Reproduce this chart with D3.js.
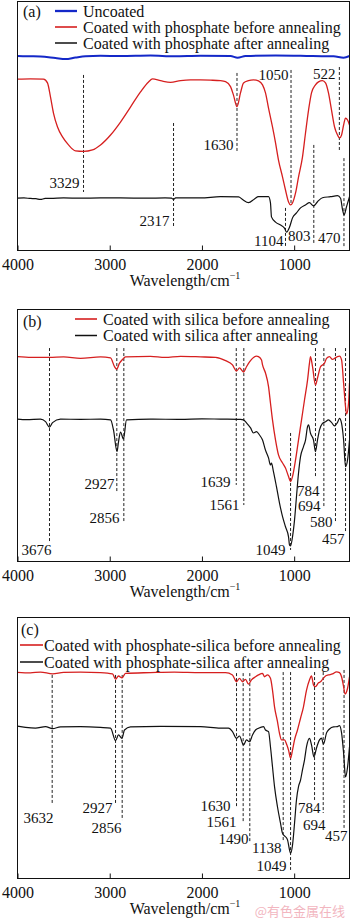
<!DOCTYPE html>
<html><head><meta charset="utf-8">
<script src="https://cdn.jsdelivr.net/npm/d3@7"></script>
<style>
body{margin:0;background:#fff}
svg{display:block}
text{font-family:"Liberation Serif","Times New Roman",serif;fill:#111}
</style>
</head><body><svg id="chart" width="350" height="920"></svg>
<script>
// ---------- data ----------
const wavenumberTicks = [4000, 3000, 2000, 1000];
const xDomain = [4000, 400];
const axisTitle = "Wavelength/cm";
const axisTitleSup = "\u22121";

// panel (a)  [wavenumber, transmittance a.u.]
const aNames = ["Uncoated", "Coated with phosphate before annealing", "Coated with phosphate after annealing"];
const aUncoated = [[4000,77.9],[3860,77.8],[3751,77.7],[3588,77.1],[3480,76.7],[3371,77.3],[3263,77.8],[3100,78.0],[2883,77.9],[2558,78.1],[2300,77.8],[2015,78.0],[1690,77.9],[1614,77.2],[1528,77.9],[1200,78.1],[931,78.0],[800,77.9],[573,77.8],[464,77.2],[400,77.9]];
const aBefore = [[4000,68.6],[3860,68.7],[3718,68.6],[3675,67.1],[3642,61.4],[3610,55.0],[3566,49.4],[3512,45.4],[3447,42.2],[3371,39.8],[3284,39.6],[3187,40.2],[3100,42.2],[2991,46.2],[2883,51.4],[2775,57.4],[2666,63.5],[2579,67.5],[2536,68.7],[2449,68.0],[2341,67.3],[2232,68.0],[2124,68.3],[2015,68.3],[1907,68.2],[1799,68.0],[1744,67.6],[1690,65.6],[1658,62.2],[1620,57.6],[1582,63.1],[1549,67.1],[1495,68.0],[1441,68.3],[1387,67.9],[1343,66.3],[1311,63.1],[1278,57.0],[1235,49.4],[1202,43.0],[1170,36.1],[1126,29.3],[1094,24.1],[1061,19.3],[1039,18.1],[1018,18.9],[985,22.9],[953,29.3],[910,37.3],[877,47.0],[844,56.2],[812,63.1],[769,66.3],[736,67.5],[693,68.0],[660,67.1],[628,63.1],[595,56.2],[562,49.4],[530,46.2],[508,45.0],[486,46.2],[464,50.2],[443,53.0],[421,52.2],[400,50.2]];
const aAfter = [[4000,20.8],[3930,20.9],[3859,20.7],[3800,20.6],[3751,20.3],[3700,20.7],[3642,20.7],[3500,20.9],[3317,20.8],[3100,20.9],[2883,20.9],[2600,20.8],[2400,20.9],[2330,20.8],[2308,20.3],[2285,20.9],[2015,20.9],[1799,21.4],[1603,21.3],[1560,20.3],[1495,19.0],[1430,20.5],[1387,21.4],[1278,21.4],[1257,18.9],[1246,13.3],[1202,11.2],[1148,10.0],[1105,8.8],[1083,7.2],[1050,9.2],[1018,12.9],[975,14.9],[931,16.9],[877,18.1],[834,19.0],[790,17.7],[747,19.4],[693,21.0],[606,21.4],[530,21.8],[497,20.8],[475,16.1],[459,14.1],[432,17.4],[400,21.4]];
const aMarkers = [
  {label:"3329", wn:3284, from:70.3, to:23.3, lx:3328, ly:24.9},
  {label:"2317", wn:2308, from:51.0, to:9.2,  lx:2352, ly:9.6},
  {label:"1630", wn:1620, from:71.1, to:39.4, lx:1658, ly:40.2},
  {label:"1050", wn:1034, from:72.3, to:18.1, lx:1061, ly:68.3},
  {label:"522",  wn:510,  from:73.5, to:39.4, lx:552,  ly:68.7},
  {label:"1104", wn:1094, from:16.9, to:1.2,  lx:1116, ly:1.6},
  {label:"803",  wn:787,  from:42.2, to:2.8,  lx:823,  ly:3.6},
  {label:"470",  wn:460,  from:36.9, to:1.2,  lx:497,  ly:2.8}
];

// panel (b)
const bNames = ["Coated with silica before annealing", "Coated with silica after annealing"];
const bBefore = [[4000,81.1],[3850,80.8],[3653,80.8],[3500,81.0],[3317,80.4],[3100,81.0],[2991,80.6],[2948,77.1],[2926,76.1],[2894,78.5],[2861,80.0],[2829,81.0],[2558,81.2],[2400,80.8],[2232,81.2],[2015,81.0],[1853,80.8],[1744,79.5],[1669,77.8],[1625,75.4],[1593,76.6],[1549,75.0],[1517,77.1],[1484,79.0],[1452,80.4],[1408,81.3],[1387,81.1],[1354,79.8],[1343,77.8],[1311,74.6],[1278,69.2],[1257,62.7],[1235,56.0],[1202,48.0],[1170,42.1],[1126,38.9],[1094,36.9],[1061,33.5],[1039,31.5],[1018,33.5],[985,40.1],[953,48.0],[920,56.0],[888,63.9],[855,71.8],[834,78.5],[823,81.1],[801,77.1],[769,69.8],[747,72.6],[714,77.1],[693,77.8],[671,78.5],[649,80.4],[617,81.1],[584,80.0],[562,80.4],[530,81.1],[508,81.3],[486,79.8],[464,70.6],[443,61.2],[432,58.3],[410,62.7],[400,70.6]];
const bAfter = [[4000,56.3],[3900,56.1],[3751,56.3],[3696,55.3],[3653,53.1],[3620,54.9],[3534,56.3],[3317,56.2],[3100,56.3],[2991,56.0],[2959,52.0],[2921,43.4],[2905,47.2],[2883,51.2],[2851,48.4],[2818,56.0],[2558,56.3],[2232,56.2],[2000,56.4],[1799,56.3],[1582,56.2],[1549,56.0],[1517,54.8],[1473,52.8],[1441,50.8],[1408,51.3],[1376,50.0],[1343,48.0],[1311,44.0],[1278,40.9],[1257,38.1],[1246,38.8],[1224,35.4],[1192,29.5],[1159,23.0],[1126,17.6],[1094,13.6],[1061,9.6],[1050,6.3],[1039,6.0],[1018,9.6],[996,16.3],[975,25.5],[953,34.8],[931,41.4],[899,45.4],[877,48.0],[855,53.3],[844,54.0],[823,50.7],[790,48.0],[769,43.4],[747,48.0],[725,52.0],[693,54.6],[660,55.3],[628,56.0],[595,55.0],[562,53.6],[530,55.0],[508,56.6],[486,54.6],[464,48.0],[443,37.4],[421,40.1],[400,48.0]];
const bMarkers = [
  {label:"3676", wn:3653, from:84.5, to:7.5,  lx:3631, ly:2.4},
  {label:"2927", wn:2923, from:84.5, to:27.4, lx:2948, ly:28.6},
  {label:"2856", wn:2847, from:84.5, to:15.5, lx:2894, ly:15.1},
  {label:"1639", wn:1628, from:84.5, to:30.2, lx:1690, ly:29.4},
  {label:"1561", wn:1546, from:84.5, to:22.2, lx:1593, ly:20.2},
  {label:"1049", wn:1039, from:50.8, to:4.4,  lx:1094, ly:2.4},
  {label:"784",  wn:769,  from:84.5, to:32.9, lx:725,  ly:25.8},
  {label:"694",  wn:678,  from:84.5, to:21.4, lx:714,  ly:19.8},
  {label:"580",  wn:552,  from:84.5, to:15.5, lx:584,  ly:13.5},
  {label:"457",  wn:443,  from:84.5, to:11.1, lx:454,  ly:6.7}
];

// panel (c)
const cNames = ["Coated with phosphate-silica before annealing", "Coated with phosphate-silica after annealing"];
const cBefore = [[4000,78.8],[3860,78.6],[3751,78.9],[3620,78.2],[3500,78.8],[3317,78.9],[3100,78.7],[2970,78.2],[2937,76.2],[2905,77.4],[2867,76.7],[2829,78.4],[2558,78.7],[2300,78.9],[2015,78.7],[1744,78.7],[1669,77.8],[1625,75.2],[1593,76.5],[1560,75.2],[1528,76.1],[1495,74.3],[1463,75.9],[1419,77.1],[1387,77.8],[1343,78.4],[1322,77.1],[1289,77.8],[1257,76.5],[1235,72.0],[1213,65.6],[1181,59.9],[1159,55.4],[1137,52.9],[1105,52.9],[1083,51.3],[1061,49.0],[1039,45.9],[1018,49.0],[996,52.9],[964,56.7],[931,61.2],[899,65.6],[866,72.0],[834,75.9],[812,77.4],[790,73.9],[769,73.3],[736,74.8],[714,75.2],[693,76.1],[660,77.4],[628,77.8],[584,78.2],[541,79.0],[508,78.7],[486,77.1],[464,73.3],[448,70.5],[421,72.7],[400,77.1]];
const cAfter = [[4000,58.2],[3913,57.7],[3805,57.4],[3696,58.0],[3620,57.2],[3534,57.9],[3317,58.0],[3100,57.7],[2991,57.4],[2937,52.6],[2905,54.8],[2867,53.5],[2840,56.7],[2775,57.9],[2449,58.1],[2015,58.0],[1799,57.4],[1712,57.4],[1669,56.1],[1625,53.5],[1593,54.4],[1549,51.0],[1517,52.9],[1484,52.2],[1452,54.8],[1419,56.7],[1387,57.4],[1332,58.0],[1311,56.7],[1278,56.1],[1257,50.3],[1235,42.6],[1213,35.0],[1181,27.3],[1148,21.0],[1126,17.1],[1094,15.8],[1072,14.6],[1050,10.7],[1039,9.5],[1018,12.6],[996,21.0],[975,29.9],[953,35.0],[931,37.5],[910,41.4],[888,45.2],[866,50.3],[834,53.5],[812,51.0],[785,46.4],[758,49.8],[725,52.9],[704,53.6],[682,51.3],[649,55.6],[617,57.1],[573,57.9],[530,58.0],[508,58.4],[486,55.6],[464,47.9],[443,38.7],[421,42.5],[400,50.2]];
const cMarkers = [
  {label:"3632", wn:3624, from:77.8, to:28.7, lx:3610, ly:21.1},
  {label:"2927", wn:2937, from:77.8, to:28.7, lx:2970, ly:24.9},
  {label:"2856", wn:2865, from:77.8, to:22.2, lx:2872, ly:17.2},
  {label:"1630", wn:1625, from:78.5, to:26.8, lx:1690, ly:25.7},
  {label:"1561", wn:1553, from:78.5, to:21.1, lx:1625, ly:19.5},
  {label:"1490", wn:1481, from:78.5, to:13.4, lx:1495, ly:13.0},
  {label:"1138", wn:1119, from:78.9, to:13.8, lx:1137, ly:9.6},
  {label:"1049", wn:1039, from:78.9, to:3.1,  lx:1083, ly:2.7},
  {label:"784",  wn:779,  from:78.9, to:29.9, lx:714,  ly:24.9},
  {label:"694",  wn:685,  from:78.9, to:24.9, lx:660,  ly:18.4},
  {label:"457",  wn:459,  from:79.7, to:19.2, lx:421,  ly:14.2}
];
const watermark = "@有色金属在线";

// ---------- drawing ----------
const RED = "#d61f1f", BLACK = "#111", BLUE = "#1428c8";
const svg = d3.select("#chart");
const x = d3.scaleLinear().domain(xDomain).range([17.5, 349.5]);

const panels = [
  {tag:"(a)", top:1, bottom:250,
   series:[{data:aUncoated,color:BLUE,w:2},{data:aBefore,color:RED,w:1.3},{data:aAfter,color:BLACK,w:1.2}],
   markers:aMarkers, names:aNames,
   tagPos:[23,17], legend:{x1:55,x2:77,tx:83,y0:11,dy:16}},
  {tag:"(b)", top:309, bottom:561,
   series:[{data:bBefore,color:RED,w:1.3},{data:bAfter,color:BLACK,w:1.2}],
   markers:bMarkers, names:bNames,
   tagPos:[23,327], legend:{x1:75,x2:97,tx:103,y0:319,dy:16.5}},
  {tag:"(c)", top:617, bottom:878,
   series:[{data:cBefore,color:RED,w:1.3},{data:cAfter,color:BLACK,w:1.2}],
   markers:cMarkers, names:cNames,
   tagPos:[21,635], legend:{x1:20,x2:43,tx:44,y0:645,dy:17}}
];

panels.forEach(p => {
  const y = d3.scaleLinear().domain([0,100]).range([p.bottom, p.top]);
  const g = svg.append("g");

  // dashed marker lines
  g.selectAll("line.mk").data(p.markers).join("line")
    .attr("x1", d => x(d.wn)).attr("x2", d => x(d.wn))
    .attr("y1", d => y(d.from)).attr("y2", d => y(d.to))
    .attr("stroke", "#222").attr("stroke-width", 1).attr("stroke-dasharray", "3,2");

  // curves
  const line = d3.line().x(d => x(d[0])).y(d => y(d[1])).curve(d3.curveMonotoneX);
  p.series.forEach(s => {
    g.append("path").attr("d", line(s.data)).attr("fill","none")
      .attr("stroke", s.color).attr("stroke-width", s.w).attr("stroke-linejoin","round");
  });

  // marker labels
  g.selectAll("text.mk").data(p.markers).join("text")
    .attr("x", d => x(d.lx)).attr("y", d => y(d.ly))
    .attr("text-anchor","end").attr("font-size",15).text(d => d.label);

  // frame
  g.append("rect").attr("x", x.range()[0]).attr("y", p.top + 0.5)
    .attr("width", x.range()[1] - x.range()[0]).attr("height", p.bottom - p.top)
    .attr("fill","none").attr("stroke","#111").attr("stroke-width",1);

  // axis
  const ax = g.append("g").attr("transform", `translate(0,${p.bottom + 0.5})`)
    .call(d3.axisBottom(x).tickValues(wavenumberTicks).tickSizeInner(-5).tickSizeOuter(0).tickPadding(8).tickFormat(d3.format("d")));
  ax.select(".domain").remove();
  ax.selectAll(".tick line").attr("stroke","#111");
  ax.selectAll(".tick text").attr("font-size",16).attr("font-family","Liberation Serif, serif").attr("fill","#111");

  // axis title
  const t = g.append("text").attr("x", 185).attr("y", p.bottom + 36)
    .attr("text-anchor","middle").attr("font-size",16);
  t.append("tspan").text(axisTitle);
  t.append("tspan").attr("font-size",10).attr("dy",-7).text(axisTitleSup);

  // panel tag
  g.append("text").attr("x", p.tagPos[0]).attr("y", p.tagPos[1]).attr("font-size",16).text(p.tag);

  // legend
  p.series.forEach((s, i) => {
    const ly = p.legend.y0 + i * p.legend.dy;
    g.append("line").attr("x1", p.legend.x1).attr("x2", p.legend.x2)
      .attr("y1", ly).attr("y2", ly).attr("stroke", s.color).attr("stroke-width", s.w + 0.3);
    g.append("text").attr("x", p.legend.tx).attr("y", ly + 5.5).attr("font-size",16).text(p.names[i]);
  });
});

svg.append("text").attr("x", 345).attr("y", 916).attr("text-anchor","end")
  .attr("font-size", 13).style("font-family", "'Noto Sans CJK SC', sans-serif")
  .style("fill", "#f2b6bf").text(watermark);
</script>
</body></html>
